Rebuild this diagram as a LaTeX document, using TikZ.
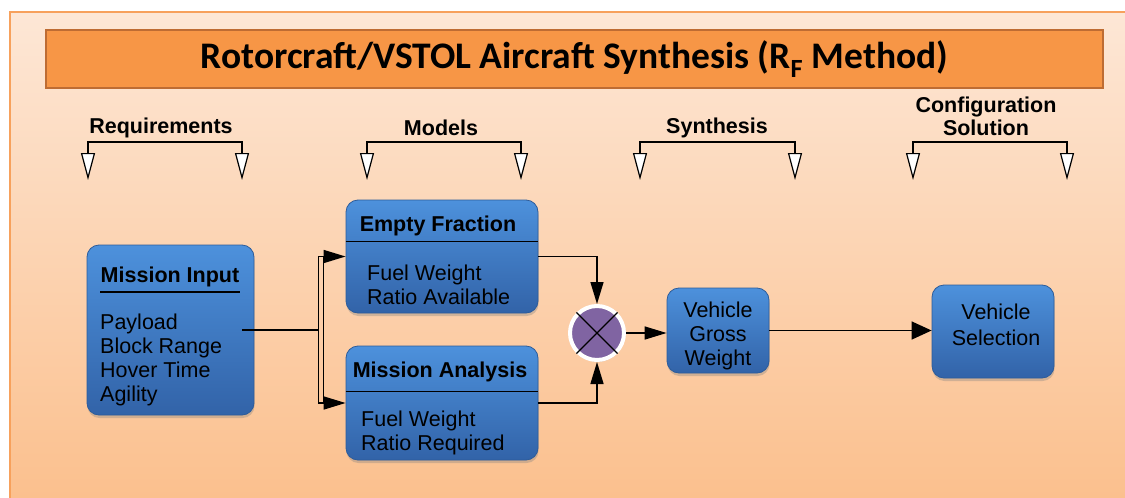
\documentclass[tikz,border=0pt]{standalone}
\usepackage{fontspec}
\setmainfont{Liberation Sans}
\newfontfamily\titlefont{Carlito}
\usetikzlibrary{arrows.meta,shadows}

\definecolor{panelTop}{HTML}{FDE7D6}
\definecolor{panelBot}{HTML}{FBBF8C}
\definecolor{panelEdge}{HTML}{F7A15C}
\definecolor{titleFill}{HTML}{F79646}
\definecolor{titleEdge}{HTML}{BE6C33}
\definecolor{boxTop}{HTML}{4D91DC}
\definecolor{boxBot}{HTML}{3263A8}
\definecolor{boxEdge}{HTML}{2D5C9A}
\definecolor{multFill}{HTML}{8064A2}

\tikzset{
  box/.style={rounded corners=12pt, top color=boxTop, bottom color=boxBot,
    draw=boxEdge, line width=0.8pt, inner sep=0pt,
    drop shadow={shadow xshift=0.5pt, shadow yshift=-3pt, opacity=0.35}},
  headtxt/.style={font=\fontsize{21.5}{24}\selectfont\bfseries, inner sep=0pt, anchor=base},
  bodytxt/.style={font=\fontsize{21.5}{24}\selectfont, inner sep=0pt, anchor=north west, align=left},
  boxtxt/.style={font=\fontsize{21.5}{24}\selectfont, inner sep=0pt, anchor=north, align=center},
  brlabel/.style={font=\fontsize{21.5}{23}\selectfont\bfseries, inner sep=0pt, align=center},
  bracket/.style={line width=2pt, {Triangle[length=27pt,width=14pt,fill=white,line width=1.2pt]}-{Triangle[length=27pt,width=14pt,fill=white,line width=1.2pt]}},
  link/.style={line width=1.5pt},
  tip/.style={-{Triangle[length=22pt,width=13pt]}},
  sep/.style={line width=1.5pt},
}

\begin{document}
\begin{tikzpicture}[x=1pt,y=-1pt]
  \useasboundingbox[fill=white] (0,0) rectangle (1125,498);

  % background panel and title
  \draw[top color=panelTop, bottom color=panelBot, draw=panelEdge, line width=1.5pt]
    (10,12) rectangle (1140,510);
  \node[fill=titleFill, draw=titleEdge, line width=2pt, minimum width=1057pt, minimum height=58pt,
        inner sep=0pt, font=\titlefont\fontsize{37.5}{40}\selectfont\bfseries]
    (title) at (574.5,59) {Rotorcraft/VSTOL Aircraft Synthesis (R\textsubscript{F} Method)};

  % brackets
  \node[brlabel] (req) at (161,128) {Requirements};
  \node[brlabel] (mod) at (441,128) {Models};
  \node[brlabel] (syn) at (717,128) {Synthesis};
  \node[brlabel] (cfg) at (986,116.5) {Configuration\\Solution};
  \foreach \lx/\rx in {88/242, 367/521, 640/795, 913/1067}
    \draw[bracket] (\lx,180) |- (\rx,142) -- (\rx,180);

  % blocks
  \node[box, minimum width=167pt, minimum height=170pt] (input) at (170.5,330) {};
  \node[headtxt] (inputhead) at (170,282) {Mission Input};
  \draw[sep] (100,292) -- (240,292);
  \node[bodytxt] (inputbody) at (100,314) {Payload\\Block Range\\Hover Time\\Agility};

  \node[box, minimum width=192pt, minimum height=113pt] (ef) at (442,256.5) {};
  \node[headtxt] (efhead) at (438,231) {Empty Fraction};
  \draw[sep] (ef.north west) ++(0,42) -- ++(192,0);
  \node[bodytxt] (efbody) at (367,265) {Fuel Weight\\Ratio Available};

  \node[box, minimum width=192pt, minimum height=114pt] (ma) at (442,403) {};
  \node[headtxt] (mahead) at (440,377) {Mission Analysis};
  \draw[sep] (ma.north west) ++(0,46) -- ++(192,0);
  \node[bodytxt] (mabody) at (361,411) {Fuel Weight\\Ratio Required};

  \node[circle, fill=multFill, draw=white, line width=4pt, minimum size=54pt,
        drop shadow={shadow xshift=0.5pt, shadow yshift=-2pt, opacity=0.3}] (mult) at (597,333) {};
  \draw[line width=1.3pt] (mult.45) -- (mult.225) (mult.135) -- (mult.315);

  \node[box, minimum width=102pt, minimum height=85pt] (vgw) at (718,330.5) {};
  \node[boxtxt] (vgwtxt) at (718,302) {Vehicle\\Gross\\Weight};

  \node[box, minimum width=122pt, minimum height=93pt] (vs) at (993,331.5) {};
  \node[boxtxt, font=\fontsize{21.5}{26}\selectfont] (vstxt) at (996,304) {Vehicle\\Selection};

  % connectors
  \coordinate (fork) at ([xshift=64pt]input.east);
  \coordinate (fork2) at ([xshift=69pt]input.east);
  \draw[link] ([xshift=-12pt]input.east) -- (fork);
  \draw[link, tip] (fork) |- (ef.west);
  \draw[link, tip] (fork) |- (ma.west);
  \draw[link] (fork2 |- ef.west) -- (fork2 |- ma.west);
  \draw[link, tip] (ef.east) -| (mult.north);
  \draw[link, tip] (ma.east) -| (mult.south);
  \draw[link, tip] (mult.east) -- (mult.east -| vgw.west);
  \draw[link, -{Triangle[length=20pt,width=18pt]}] (vgw.east) -- (vgw.east -| vs.west);
\end{tikzpicture}
\end{document}
